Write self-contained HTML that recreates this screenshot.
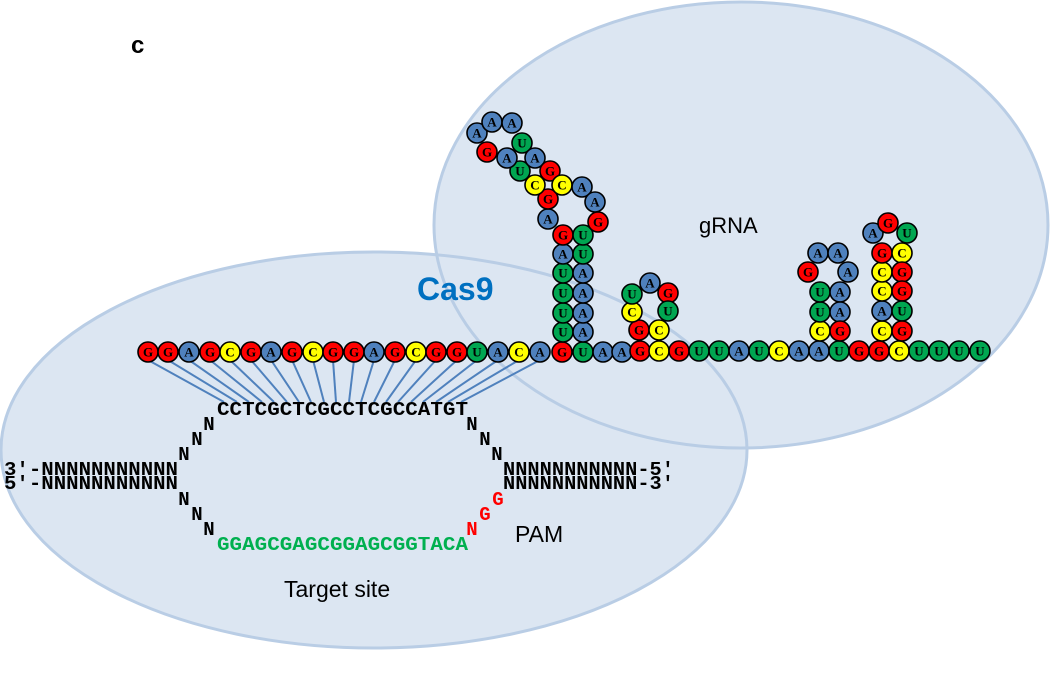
<!DOCTYPE html>
<html><head><meta charset="utf-8"><style>
html,body{margin:0;padding:0;background:#fff;}
svg{display:block;}
.n circle{stroke:#000;stroke-width:1.6;}
.n text{font-family:"Liberation Serif",serif;font-weight:bold;font-size:13px;text-anchor:middle;dominant-baseline:central;fill:#000;}
.R circle{fill:#ff0000}.B circle{fill:#4f81bd}.Gr circle{fill:#00a651}.Y circle{fill:#ffff00}
.m{font-family:"Liberation Mono",monospace;font-weight:bold;font-size:19px;}
.s{font-family:"Liberation Sans",sans-serif;}
</style></head><body>
<svg width="1050" height="685" viewBox="0 0 1050 685" xmlns="http://www.w3.org/2000/svg">
<ellipse cx="374" cy="450" rx="373" ry="198" fill="#dce6f2"/>
<ellipse cx="741" cy="225" rx="307" ry="223" fill="#dce6f2"/>
<ellipse cx="374" cy="450" rx="373" ry="198" fill="none" stroke="#b9cde5" stroke-width="3"/>
<ellipse cx="741" cy="225" rx="307" ry="223" fill="none" stroke="#b9cde5" stroke-width="3"/>

<text x="131" y="53" class="s" font-weight="bold" font-size="24">c</text>
<text x="417" y="300" class="s" font-weight="bold" font-size="32" fill="#0070c0">Cas9</text>
<text x="699" y="233" class="s" font-size="22">gRNA</text>
<text x="284" y="597" class="s" font-size="23">Target site</text>
<text x="515" y="542" class="s" font-size="23">PAM</text>

<g stroke="#4f81bd" stroke-width="2">
<line x1="148" y1="360" x2="224" y2="402"/><line x1="168" y1="360" x2="237" y2="402"/><line x1="189" y1="360" x2="249" y2="402"/><line x1="210" y1="360" x2="262" y2="402"/><line x1="230" y1="360" x2="274" y2="402"/><line x1="251" y1="360" x2="287" y2="402"/><line x1="271" y1="360" x2="299" y2="402"/><line x1="292" y1="360" x2="311" y2="402"/><line x1="313" y1="360" x2="324" y2="402"/><line x1="333" y1="360" x2="336" y2="402"/><line x1="354" y1="360" x2="349" y2="402"/><line x1="374" y1="360" x2="361" y2="402"/><line x1="395" y1="360" x2="374" y2="402"/><line x1="416" y1="360" x2="386" y2="402"/><line x1="436" y1="360" x2="398" y2="402"/><line x1="457" y1="360" x2="411" y2="402"/><line x1="477" y1="360" x2="423" y2="402"/><line x1="498" y1="360" x2="436" y2="402"/><line x1="519" y1="360" x2="448" y2="402"/><line x1="540" y1="360" x2="461" y2="402"/>
</g>

<text class="m" x="217" y="415" textLength="251" lengthAdjust="spacingAndGlyphs">CCTCGCTCGCCTCGCCATGT</text>
<text class="m" x="217" y="550" textLength="251" lengthAdjust="spacingAndGlyphs" fill="#00b050">GGAGCGAGCGGAGCGGTACA</text>
<g class="m" text-anchor="middle">
<text x="209" y="430">N</text><text x="197" y="445">N</text><text x="184" y="460">N</text>
<text x="184" y="505">N</text><text x="197" y="520">N</text><text x="209" y="535">N</text>
<text x="472" y="430">N</text><text x="485" y="445">N</text><text x="497" y="460">N</text>
<text x="498" y="505" fill="#ff0000">G</text><text x="485" y="520" fill="#ff0000">G</text><text x="472" y="535" fill="#ff0000">N</text>
</g>
<text class="m" x="4" y="475" textLength="174" lengthAdjust="spacingAndGlyphs">3′-NNNNNNNNNNN</text>
<text class="m" x="4" y="489" textLength="174" lengthAdjust="spacingAndGlyphs">5′-NNNNNNNNNNN</text>
<text class="m" x="503" y="475" textLength="171" lengthAdjust="spacingAndGlyphs">NNNNNNNNNNN-5′</text>
<text class="m" x="503" y="489" textLength="171" lengthAdjust="spacingAndGlyphs">NNNNNNNNNNN-3′</text>

<!-- main row -->
<g class="n R"><circle cx="148" cy="352" r="10"/><text x="148" y="352">G</text></g>
<g class="n R"><circle cx="168" cy="352" r="10"/><text x="168" y="352">G</text></g>
<g class="n B"><circle cx="189" cy="352" r="10"/><text x="189" y="352">A</text></g>
<g class="n R"><circle cx="210" cy="352" r="10"/><text x="210" y="352">G</text></g>
<g class="n Y"><circle cx="230" cy="352" r="10"/><text x="230" y="352">C</text></g>
<g class="n R"><circle cx="251" cy="352" r="10"/><text x="251" y="352">G</text></g>
<g class="n B"><circle cx="271" cy="352" r="10"/><text x="271" y="352">A</text></g>
<g class="n R"><circle cx="292" cy="352" r="10"/><text x="292" y="352">G</text></g>
<g class="n Y"><circle cx="313" cy="352" r="10"/><text x="313" y="352">C</text></g>
<g class="n R"><circle cx="333" cy="352" r="10"/><text x="333" y="352">G</text></g>
<g class="n R"><circle cx="354" cy="352" r="10"/><text x="354" y="352">G</text></g>
<g class="n B"><circle cx="374" cy="352" r="10"/><text x="374" y="352">A</text></g>
<g class="n R"><circle cx="395" cy="352" r="10"/><text x="395" y="352">G</text></g>
<g class="n Y"><circle cx="416" cy="352" r="10"/><text x="416" y="352">C</text></g>
<g class="n R"><circle cx="436" cy="352" r="10"/><text x="436" y="352">G</text></g>
<g class="n R"><circle cx="457" cy="352" r="10"/><text x="457" y="352">G</text></g>
<g class="n Gr"><circle cx="477" cy="352" r="10"/><text x="477" y="352">U</text></g>
<g class="n B"><circle cx="498" cy="352" r="10"/><text x="498" y="352">A</text></g>
<g class="n Y"><circle cx="519" cy="352" r="10"/><text x="519" y="352">C</text></g>
<g class="n B"><circle cx="540" cy="352" r="10"/><text x="540" y="352">A</text></g>
<g class="n R"><circle cx="562" cy="352" r="10"/><text x="562" y="352">G</text></g>
<g class="n Gr"><circle cx="583" cy="352" r="10"/><text x="583" y="352">U</text></g>
<g class="n B"><circle cx="603" cy="352" r="10"/><text x="603" y="352">A</text></g>
<g class="n B"><circle cx="622" cy="352" r="10"/><text x="622" y="352">A</text></g>
<g class="n R"><circle cx="640" cy="351" r="10"/><text x="640" y="351">G</text></g>
<g class="n Y"><circle cx="659" cy="351" r="10"/><text x="659" y="351">C</text></g>
<g class="n R"><circle cx="679" cy="351" r="10"/><text x="679" y="351">G</text></g>
<g class="n Gr"><circle cx="699" cy="351" r="10"/><text x="699" y="351">U</text></g>
<g class="n Gr"><circle cx="719" cy="351" r="10"/><text x="719" y="351">U</text></g>
<g class="n B"><circle cx="739" cy="351" r="10"/><text x="739" y="351">A</text></g>
<g class="n Gr"><circle cx="759" cy="351" r="10"/><text x="759" y="351">U</text></g>
<g class="n Y"><circle cx="779" cy="351" r="10"/><text x="779" y="351">C</text></g>
<g class="n B"><circle cx="799" cy="351" r="10"/><text x="799" y="351">A</text></g>
<g class="n B"><circle cx="819" cy="351" r="10"/><text x="819" y="351">A</text></g>
<g class="n Gr"><circle cx="839" cy="351" r="10"/><text x="839" y="351">U</text></g>
<g class="n R"><circle cx="859" cy="351" r="10"/><text x="859" y="351">G</text></g>
<g class="n R"><circle cx="879" cy="351" r="10"/><text x="879" y="351">G</text></g>
<g class="n Y"><circle cx="899" cy="351" r="10"/><text x="899" y="351">C</text></g>
<g class="n Gr"><circle cx="919" cy="351" r="10"/><text x="919" y="351">U</text></g>
<g class="n Gr"><circle cx="939" cy="351" r="10"/><text x="939" y="351">U</text></g>
<g class="n Gr"><circle cx="959" cy="351" r="10"/><text x="959" y="351">U</text></g>
<g class="n Gr"><circle cx="980" cy="351" r="10"/><text x="980" y="351">U</text></g>

<!-- stem 1 -->
<g class="n Gr"><circle cx="563" cy="332" r="10"/><text x="563" y="332">U</text></g>
<g class="n Gr"><circle cx="563" cy="313" r="10"/><text x="563" y="313">U</text></g>
<g class="n Gr"><circle cx="563" cy="293" r="10"/><text x="563" y="293">U</text></g>
<g class="n Gr"><circle cx="563" cy="273" r="10"/><text x="563" y="273">U</text></g>
<g class="n B"><circle cx="563" cy="254" r="10"/><text x="563" y="254">A</text></g>
<g class="n R"><circle cx="563" cy="235" r="10"/><text x="563" y="235">G</text></g>
<g class="n B"><circle cx="583" cy="332" r="10"/><text x="583" y="332">A</text></g>
<g class="n B"><circle cx="583" cy="313" r="10"/><text x="583" y="313">A</text></g>
<g class="n B"><circle cx="583" cy="293" r="10"/><text x="583" y="293">A</text></g>
<g class="n B"><circle cx="583" cy="273" r="10"/><text x="583" y="273">A</text></g>
<g class="n Gr"><circle cx="583" cy="254" r="10"/><text x="583" y="254">U</text></g>
<g class="n Gr"><circle cx="583" cy="235" r="10"/><text x="583" y="235">U</text></g>
<g class="n B"><circle cx="548" cy="219" r="10"/><text x="548" y="219">A</text></g>
<g class="n R"><circle cx="548" cy="199" r="10"/><text x="548" y="199">G</text></g>
<g class="n Y"><circle cx="535" cy="185" r="10"/><text x="535" y="185">C</text></g>
<g class="n Gr"><circle cx="520" cy="171" r="10"/><text x="520" y="171">U</text></g>
<g class="n B"><circle cx="507" cy="158" r="10"/><text x="507" y="158">A</text></g>
<g class="n R"><circle cx="487" cy="152" r="10"/><text x="487" y="152">G</text></g>
<g class="n B"><circle cx="477" cy="133" r="10"/><text x="477" y="133">A</text></g>
<g class="n B"><circle cx="492" cy="122" r="10"/><text x="492" y="122">A</text></g>
<g class="n B"><circle cx="512" cy="123" r="10"/><text x="512" y="123">A</text></g>
<g class="n Gr"><circle cx="522" cy="143" r="10"/><text x="522" y="143">U</text></g>
<g class="n B"><circle cx="535" cy="158" r="10"/><text x="535" y="158">A</text></g>
<g class="n R"><circle cx="550" cy="171" r="10"/><text x="550" y="171">G</text></g>
<g class="n Y"><circle cx="562" cy="185" r="10"/><text x="562" y="185">C</text></g>
<g class="n B"><circle cx="582" cy="187" r="10"/><text x="582" y="187">A</text></g>
<g class="n B"><circle cx="595" cy="202" r="10"/><text x="595" y="202">A</text></g>
<g class="n R"><circle cx="598" cy="222" r="10"/><text x="598" y="222">G</text></g>

<!-- stem 2 -->
<g class="n R"><circle cx="639" cy="330" r="10"/><text x="639" y="330">G</text></g>
<g class="n Y"><circle cx="632" cy="312" r="10"/><text x="632" y="312">C</text></g>
<g class="n Gr"><circle cx="632" cy="294" r="10"/><text x="632" y="294">U</text></g>
<g class="n B"><circle cx="650" cy="283" r="10"/><text x="650" y="283">A</text></g>
<g class="n R"><circle cx="668" cy="293" r="10"/><text x="668" y="293">G</text></g>
<g class="n Gr"><circle cx="668" cy="311" r="10"/><text x="668" y="311">U</text></g>
<g class="n Y"><circle cx="659" cy="330" r="10"/><text x="659" y="330">C</text></g>

<!-- stem 3 -->
<g class="n Y"><circle cx="820" cy="331" r="10"/><text x="820" y="331">C</text></g>
<g class="n Gr"><circle cx="820" cy="312" r="10"/><text x="820" y="312">U</text></g>
<g class="n Gr"><circle cx="820" cy="292" r="10"/><text x="820" y="292">U</text></g>
<g class="n R"><circle cx="808" cy="272" r="10"/><text x="808" y="272">G</text></g>
<g class="n B"><circle cx="818" cy="253" r="10"/><text x="818" y="253">A</text></g>
<g class="n B"><circle cx="838" cy="253" r="10"/><text x="838" y="253">A</text></g>
<g class="n B"><circle cx="848" cy="272" r="10"/><text x="848" y="272">A</text></g>
<g class="n B"><circle cx="840" cy="292" r="10"/><text x="840" y="292">A</text></g>
<g class="n B"><circle cx="840" cy="312" r="10"/><text x="840" y="312">A</text></g>
<g class="n R"><circle cx="840" cy="331" r="10"/><text x="840" y="331">G</text></g>

<!-- stem 4 -->
<g class="n Y"><circle cx="882" cy="331" r="10"/><text x="882" y="331">C</text></g>
<g class="n B"><circle cx="882" cy="311" r="10"/><text x="882" y="311">A</text></g>
<g class="n Y"><circle cx="882" cy="291" r="10"/><text x="882" y="291">C</text></g>
<g class="n Y"><circle cx="882" cy="272" r="10"/><text x="882" y="272">C</text></g>
<g class="n R"><circle cx="882" cy="253" r="10"/><text x="882" y="253">G</text></g>
<g class="n B"><circle cx="873" cy="233" r="10"/><text x="873" y="233">A</text></g>
<g class="n R"><circle cx="888" cy="223" r="10"/><text x="888" y="223">G</text></g>
<g class="n Gr"><circle cx="907" cy="233" r="10"/><text x="907" y="233">U</text></g>
<g class="n Y"><circle cx="902" cy="253" r="10"/><text x="902" y="253">C</text></g>
<g class="n R"><circle cx="902" cy="272" r="10"/><text x="902" y="272">G</text></g>
<g class="n R"><circle cx="902" cy="291" r="10"/><text x="902" y="291">G</text></g>
<g class="n Gr"><circle cx="902" cy="311" r="10"/><text x="902" y="311">U</text></g>
<g class="n R"><circle cx="902" cy="331" r="10"/><text x="902" y="331">G</text></g>
</svg>
</body></html>
